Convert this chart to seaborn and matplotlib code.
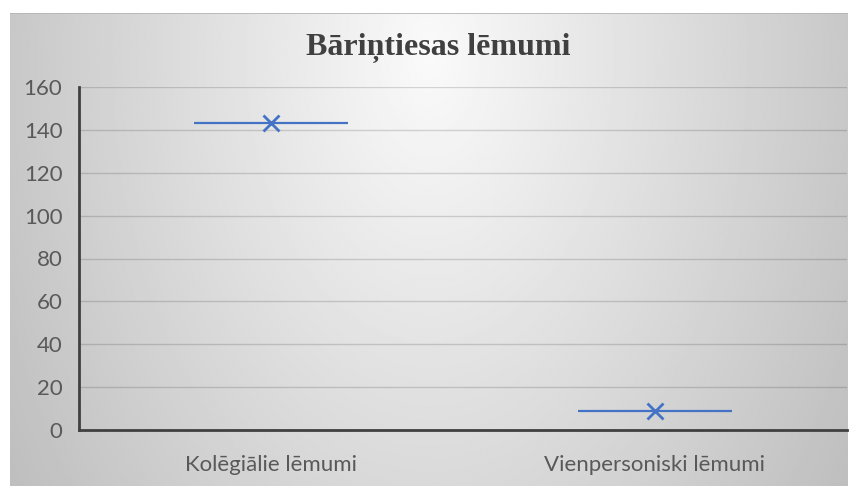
import seaborn as sns
import matplotlib.pyplot as plt
import numpy as np
import pandas as pd

categories = ['Kolēgiālie lēmumi', 'Vienpersoniski lēmumi']
values = [143, 9]
yticks = [0, 20, 40, 60, 80, 100, 120, 140, 160]
title = 'Bāriņtiesas lēmumi'

df = pd.DataFrame({'kategorija': categories, 'skaits': values})

sns.set_theme(style='white')
plt.rcParams['font.family'] = ['Lato', 'DejaVu Sans']

W, H = 853, 486
fig = plt.figure(figsize=(W / 100, H / 100), dpi=100)
fig.patch.set_facecolor('white')

# chart area background: radial gradient like the Excel style
bg = fig.add_axes([10 / W, 0, 838 / W, 473 / H], zorder=0)
gx, gy = np.meshgrid(np.linspace(10, 848, 400), np.linspace(13, 486, 240))
d = np.sqrt(((gx - 430) / 0.64) ** 2 + (gy - 55) ** 2) / 420
shade = np.clip(250 - 32 * d, 185, 250) / 255
bg.imshow(shade, cmap='gray', vmin=0, vmax=1, aspect='auto',
          extent=[0, 1, 0, 1], interpolation='bilinear')
bg.axhline(1, color='#b4b4b4', lw=1.2)
bg.set_axis_off()

ax = fig.add_axes([79 / W, 1 - 430 / H, 768 / W, 343 / H], zorder=1)
ax.set_facecolor('none')

sns.pointplot(data=df, x='kategorija', y='skaits', linestyle='none',
              marker='x', markersize=11, markeredgewidth=2,
              color='#4472C4', ax=ax)
ax.hlines(df['skaits'], np.arange(len(df)) - 0.2, np.arange(len(df)) + 0.2,
          color='#4472C4', lw=1.6, zorder=2)

ax.set_xlim(-0.5, len(df) - 0.5)
ax.set_ylim(0, 160)
ax.set_yticks(yticks)
ax.grid(axis='y', color='k', alpha=0.17, lw=1)
ax.set_axisbelow(True)
for s in ['top', 'right']:
    ax.spines[s].set_visible(False)
for s in ['left', 'bottom']:
    ax.spines[s].set_color('#404040')
    ax.spines[s].set_linewidth(2)
ax.tick_params(axis='y', length=0, pad=12, labelsize=16, labelcolor='#595959')
ax.tick_params(axis='x', length=0, pad=18, labelsize=16, labelcolor='#595959')
ax.set_xlabel('')
ax.set_ylabel('')

fig.text(438 / W, 1 - 48 / H, title, ha='center', va='center',
         fontsize=23, fontweight='bold', family='Liberation Serif',
         color='#404040')

fig.savefig('out.png', dpi=100)
